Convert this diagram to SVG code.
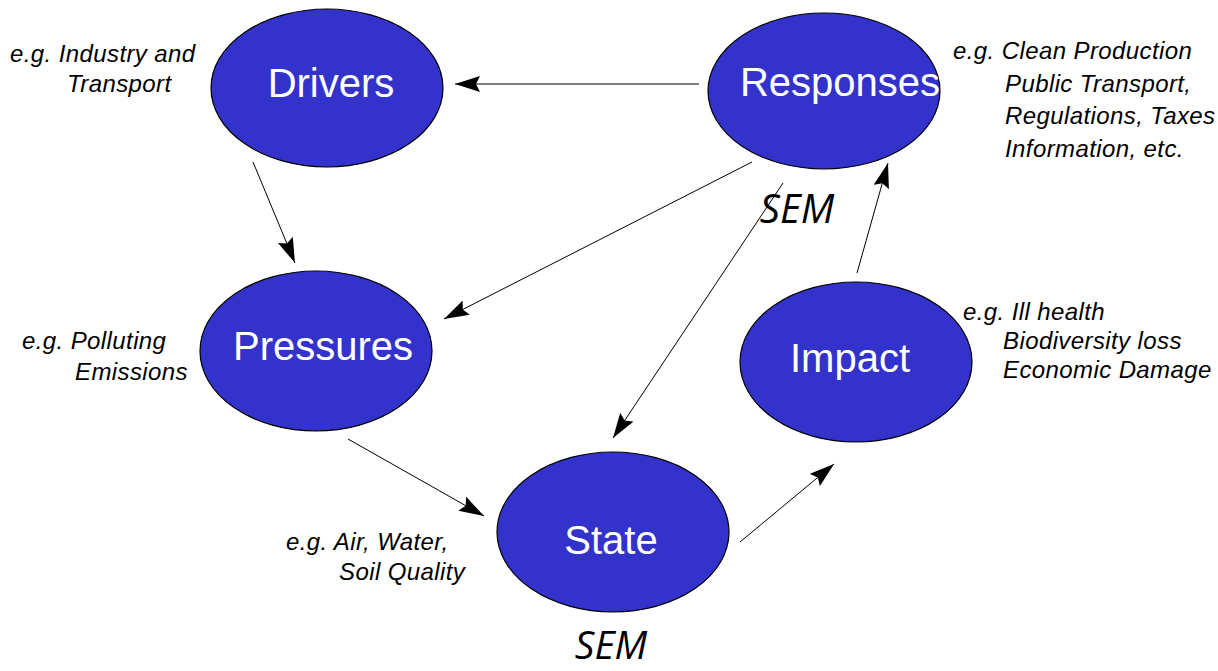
<svg xmlns="http://www.w3.org/2000/svg" width="1218" height="671" viewBox="0 0 1218 671">
<defs>
<marker id="ah" markerUnits="userSpaceOnUse" markerWidth="26" markerHeight="16" refX="25" refY="8" orient="auto">
<path d="M0,0 L25,8 L0,16 L4,8 z" fill="#000"/>
</marker>
<style>
.node{fill:#3333CC;stroke:#000;stroke-width:1.2}
.lbl{font-family:"Liberation Sans",Arial,sans-serif;font-size:40px;fill:#fff;text-anchor:middle}
.ann{font-family:"Liberation Sans",Arial,sans-serif;font-size:24px;letter-spacing:0.4px;font-style:italic;fill:#000}
.sem{font-family:"Open Sans","Noto Sans",sans-serif;font-size:40px;font-style:italic;fill:#000;text-anchor:middle}
.conn line{stroke:#000;stroke-width:1;marker-end:url(#ah)}
</style>
</defs>
<rect width="1218" height="671" fill="#fff"/>
<g id="connectors" class="conn">
<line x1="699" y1="84" x2="455" y2="84"/>
<line x1="253" y1="162" x2="295" y2="263"/>
<line x1="752" y1="162" x2="444" y2="319"/>
<line x1="783" y1="183" x2="613" y2="438"/>
<line x1="857" y1="273" x2="888" y2="163"/>
<line x1="348" y1="439" x2="484" y2="516"/>
<line x1="740" y1="542" x2="834" y2="464"/>
</g>
<g id="drivers">
<ellipse class="node" cx="327" cy="88" rx="116" ry="79"/>
<text class="lbl" x="331" y="97">Drivers</text>
<text class="ann" x="10" y="62">e.g. Industry and</text>
<text class="ann" x="67" y="92">Transport</text>
</g>
<g id="responses">
<ellipse class="node" cx="824" cy="91" rx="116" ry="78"/>
<text class="lbl" x="840" y="96">Responses</text>
<text class="ann" x="953" y="59">e.g. Clean Production</text>
<text class="ann" x="1005" y="92">Public Transport,</text>
<text class="ann" x="1005" y="124">Regulations, Taxes</text>
<text class="ann" x="1005" y="157">Information, etc.</text>
<text class="sem" x="797" y="223">SEM</text>
</g>
<g id="pressures">
<ellipse class="node" cx="316" cy="351" rx="116" ry="80"/>
<text class="lbl" x="323" y="360">Pressures</text>
<text class="ann" x="22" y="349">e.g. Polluting</text>
<text class="ann" x="75" y="380">Emissions</text>
</g>
<g id="impact">
<ellipse class="node" cx="856" cy="362" rx="116" ry="80"/>
<text class="lbl" x="850" y="372">Impact</text>
<text class="ann" x="963" y="320">e.g. Ill health</text>
<text class="ann" x="1003" y="349">Biodiversity loss</text>
<text class="ann" x="1003" y="378">Economic Damage</text>
</g>
<g id="state">
<ellipse class="node" cx="613" cy="532" rx="116" ry="80"/>
<text class="lbl" x="611" y="554">State</text>
<text class="ann" x="286" y="550">e.g. Air, Water,</text>
<text class="ann" x="339" y="580">Soil Quality</text>
<text class="sem" x="611" y="659" style="font-size:39px">SEM</text>
</g>
</svg>
